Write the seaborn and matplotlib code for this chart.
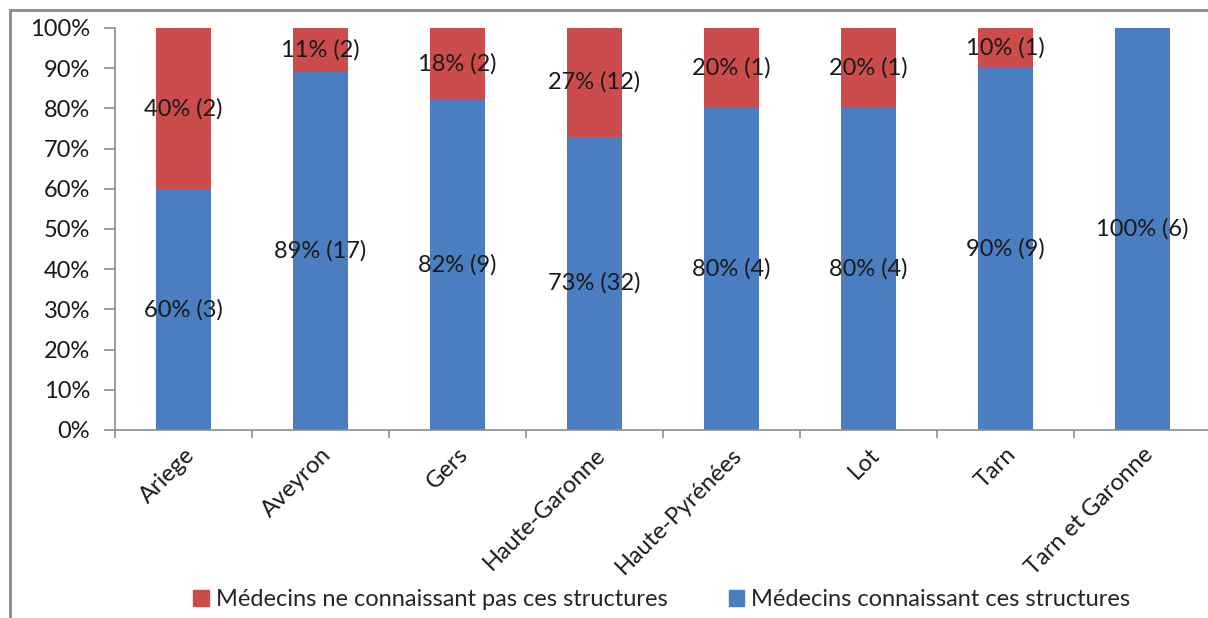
import matplotlib
matplotlib.use("Agg")
import matplotlib.pyplot as plt
import matplotlib.patches as mpatches
import seaborn as sns
import pandas as pd

# Survey results per département
departements = ["Ariege", "Aveyron", "Gers", "Haute-Garonne",
                "Haute-Pyrénées", "Lot", "Tarn", "Tarn et Garonne"]
pct_connaissant = [60, 89, 82, 73, 80, 80, 90, 100]
n_connaissant = [3, 17, 9, 32, 4, 4, 9, 6]
pct_ne_connaissant = [40, 11, 18, 27, 20, 20, 10, 0]
n_ne_connaissant = [2, 2, 2, 12, 1, 1, 1, 0]

label_connaissant = "Médecins connaissant ces structures"
label_ne_connaissant = "Médecins ne connaissant pas ces structures"

blue = "#4A7EC0"
red = "#CC4B4B"

sns.set_theme(style="white")
plt.rcParams["font.family"] = ["Lato", "DejaVu Sans"]

df = pd.DataFrame({
    "dep": departements,
    "connait": pct_connaissant,
    "ne_connait": pct_ne_connaissant,
})
df["total"] = df["connait"] + df["ne_connait"]

fig = plt.figure(figsize=(12.08, 6.18), dpi=100)
ax = fig.add_axes([115 / 1208, 188 / 618, 1096 / 1208, 402 / 618])

# Stacked bars: full height in red, then the "connaissant" share in blue
sns.barplot(data=df, x="dep", y="total", color=red, width=0.4,
            saturation=1, ax=ax, order=departements, linewidth=0)
sns.barplot(data=df, x="dep", y="connait", color=blue, width=0.4,
            saturation=1, ax=ax, order=departements, linewidth=0)

fs = 17
for i in range(len(departements)):
    b = pct_connaissant[i]
    r = pct_ne_connaissant[i]
    ax.text(i, b / 2, f"{b}% ({n_connaissant[i]})", ha="center",
            va="center", fontsize=fs, color="#1a1a1a")
    if r > 0:
        ax.text(i, b + r / 2, f"{r}% ({n_ne_connaissant[i]})", ha="center",
                va="center", fontsize=fs, color="#1a1a1a")

ax.set_xlim(-0.5, len(departements) - 0.5)
ax.set_ylim(0, 100)
ax.set_yticks(range(0, 101, 10))
ax.set_yticklabels([f"{v}%" for v in range(0, 101, 10)], fontsize=fs,
                   color="#1a1a1a")
ax.set_xticks(range(len(departements)))
ax.set_xticklabels(departements, rotation=45, ha="right",
                   rotation_mode="anchor", fontsize=fs, color="#1a1a1a")
ax.set_xlabel("")
ax.set_ylabel("")

for side in ("top", "right"):
    ax.spines[side].set_visible(False)
for side in ("left", "bottom"):
    ax.spines[side].set_color("#8c8c8c")
    ax.spines[side].set_linewidth(1.2)

ax.tick_params(axis="y", left=True, length=8, width=1.2, color="#8c8c8c",
               pad=10)
ax.tick_params(axis="x", bottom=False, pad=4)
# Category separators on the x axis
ax.set_xticks([i - 0.5 for i in range(len(departements) + 1)], minor=True)
ax.tick_params(axis="x", which="minor", bottom=True, length=6, width=1.2,
               color="#8c8c8c")

handles = [mpatches.Patch(color=red, label=label_ne_connaissant),
           mpatches.Patch(color=blue, label=label_connaissant)]
fig.legend(handles=handles, loc="lower center", ncol=2,
           bbox_to_anchor=(0.548, -0.022), frameon=False, fontsize=fs,
           handlelength=0.65, handleheight=0.65, handletextpad=0.3,
           columnspacing=2.6)

# Chart frame
fig.add_artist(mpatches.Rectangle((10 / 1208, -0.05), 1.2, 1 - 10 / 618 + 0.05,
                                  transform=fig.transFigure, fill=False,
                                  edgecolor="#8a8a8a", linewidth=2))

fig.savefig("out.png", dpi=100)
